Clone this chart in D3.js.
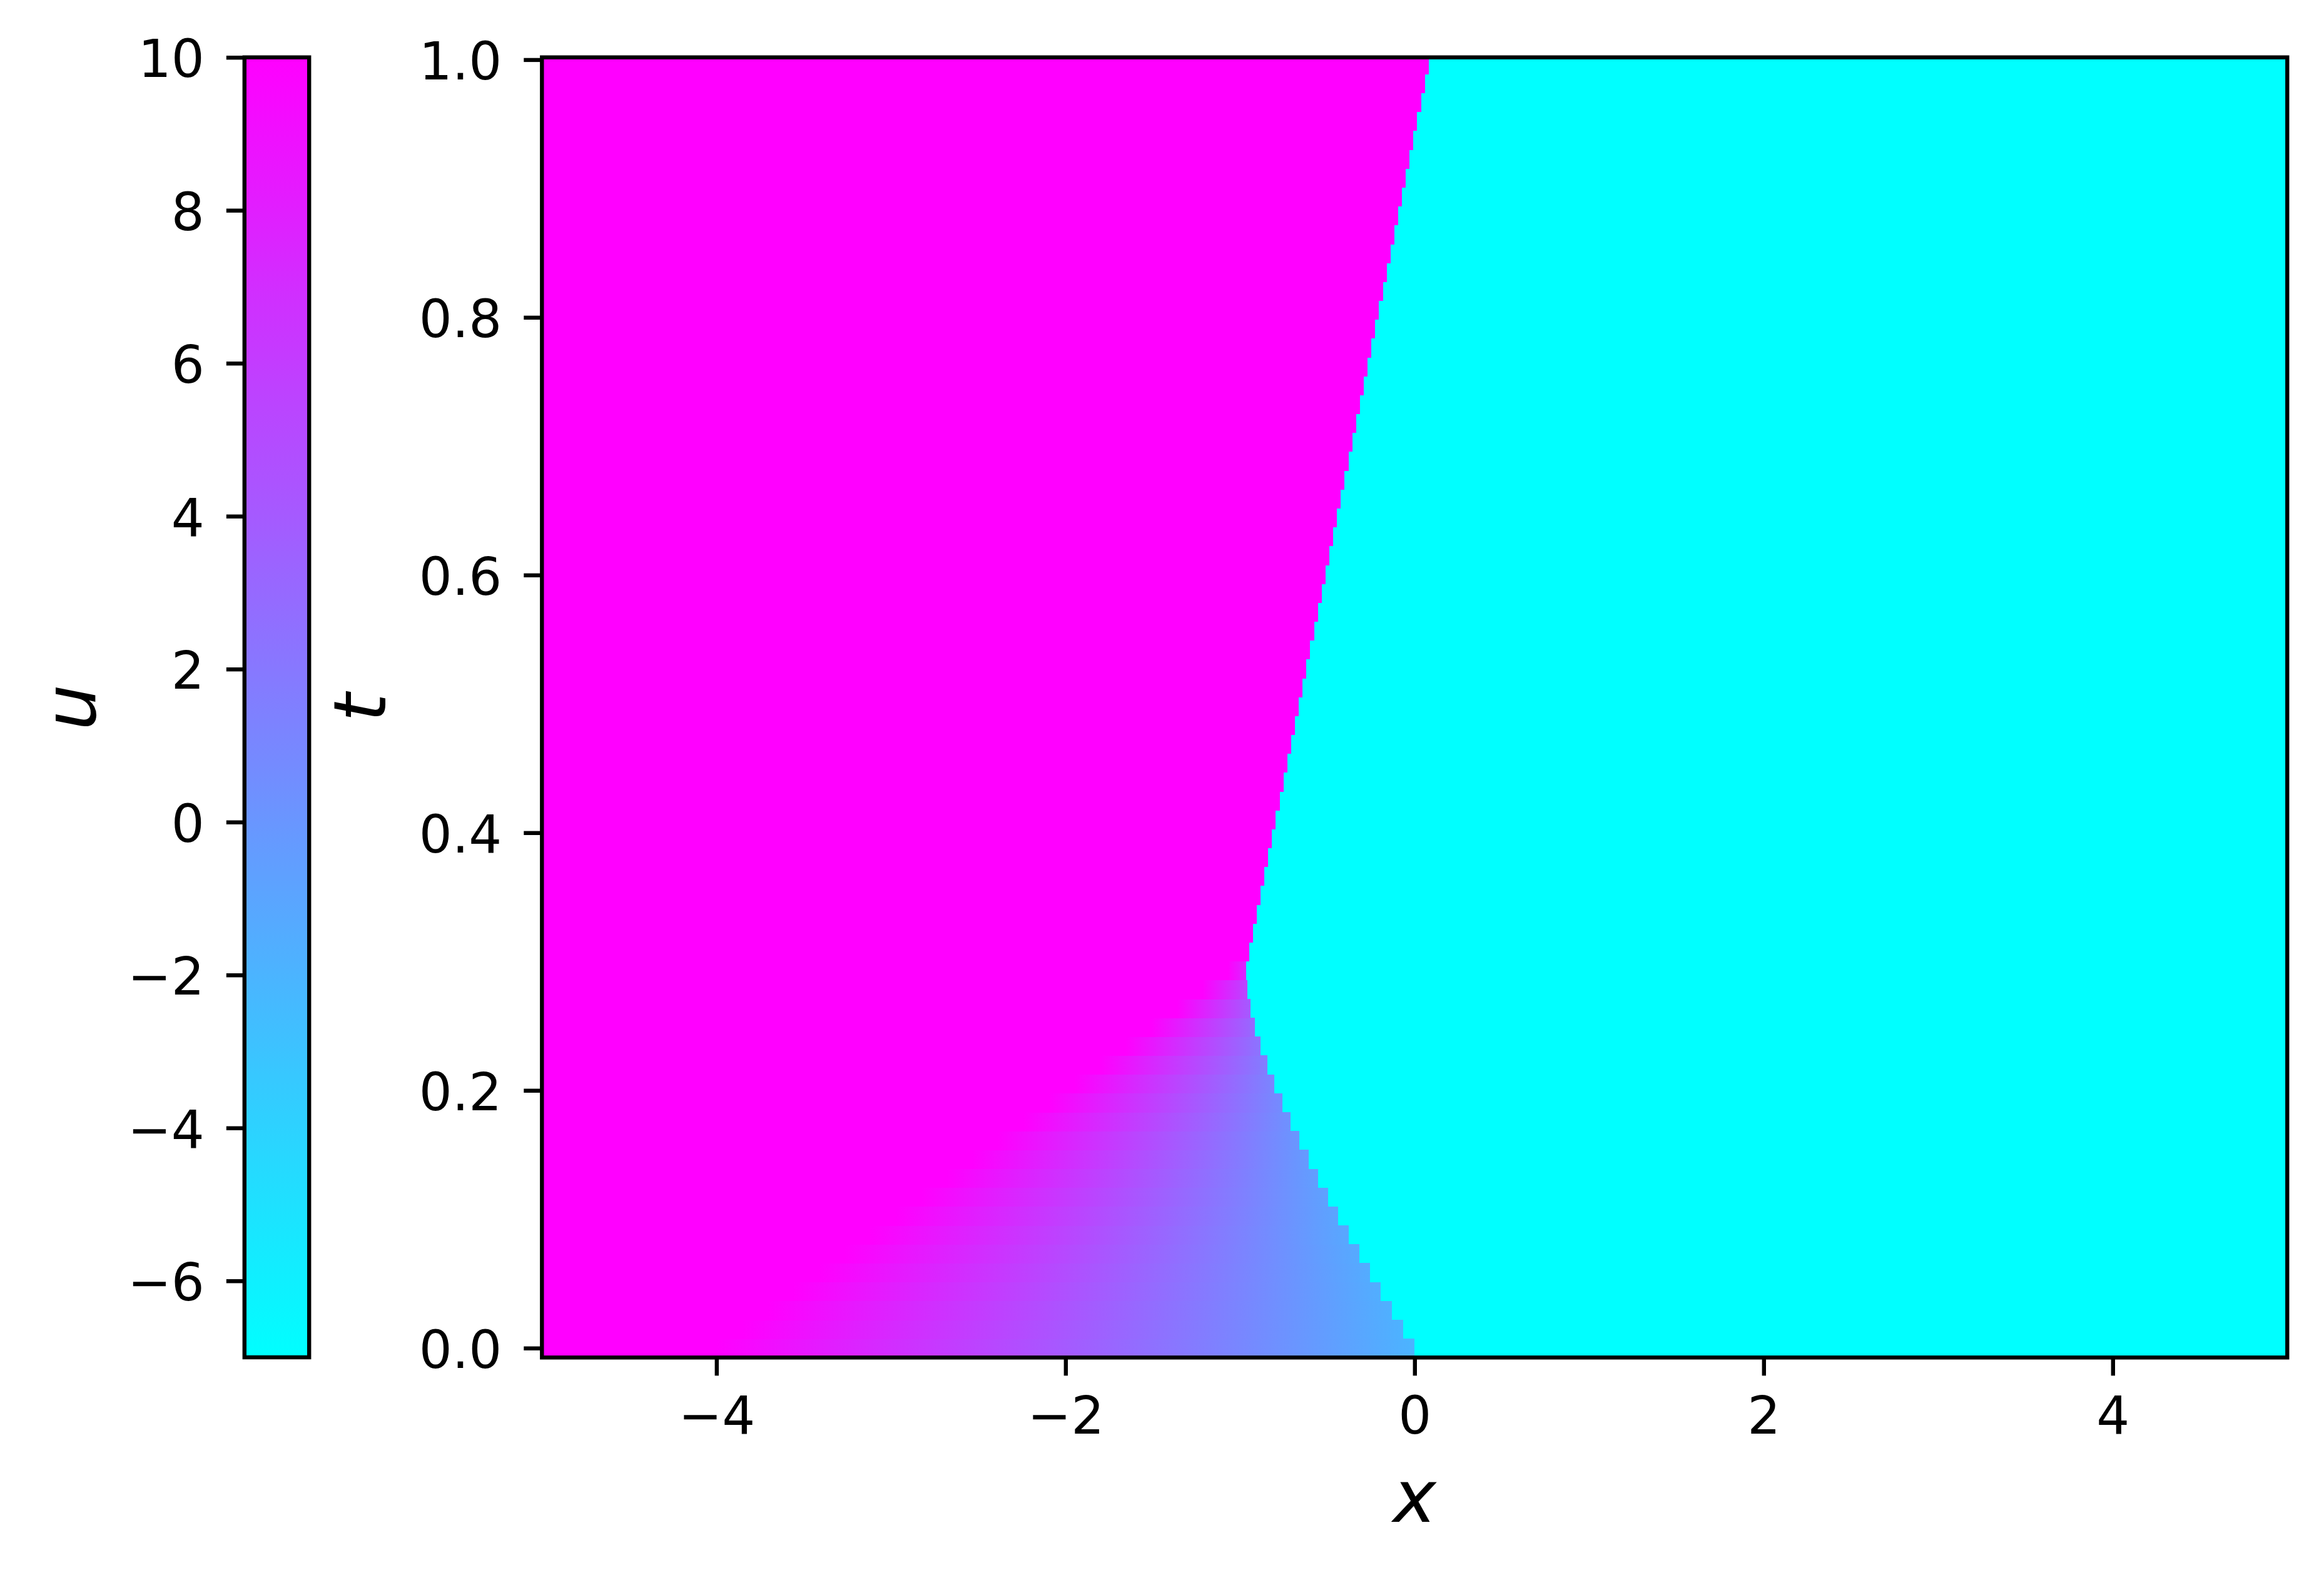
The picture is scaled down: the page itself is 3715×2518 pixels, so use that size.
<!DOCTYPE html>
<html>
<head>
<meta charset="utf-8">
<script src="https://cdn.jsdelivr.net/npm/d3@7"></script>
<style>
  html, body { margin: 0; padding: 0; background: #ffffff; }
  svg { display: block; }
  text { font-family: "DejaVu Sans", sans-serif; fill: #000; }
</style>
</head>
<body>
<div id="chart"></div>
<script>
// ---------------- data ----------------
const xDomain = [-5, 5];
const uDomain = [-7, 10];
const xTicks = [-4, -2, 0, 2, 4];
const tTicks = [0, 0.2, 0.4, 0.6, 0.8, 1.0];
const uTicks = [-6, -4, -2, 0, 2, 4, 6, 8, 10];

// time of each stored row of the solution
const tRows = [0, 0.01465, 0.0293, 0.04395, 0.0586, 0.07325, 0.0879, 0.10255, 0.1172, 0.13185,
  0.1465, 0.16115, 0.1758, 0.19045, 0.2051, 0.21975, 0.2344, 0.24905, 0.2637, 0.27835,
  0.293, 0.30765, 0.3223, 0.33695, 0.3516, 0.36625, 0.3809, 0.39555, 0.4102, 0.42485,
  0.4395, 0.45415, 0.4688, 0.48345, 0.4981, 0.51275, 0.5274, 0.54205, 0.5567, 0.57135,
  0.586, 0.60065, 0.6153, 0.62995, 0.6446, 0.65925, 0.6739, 0.68855, 0.7032, 0.71785,
  0.7325, 0.74715, 0.7618, 0.77645, 0.7911, 0.80575, 0.8204, 0.83505, 0.8497, 0.86435,
  0.879, 0.89365, 0.9083, 0.92295, 0.9376, 0.95225, 0.9669, 0.98155, 0.9962];

// x position of the jump to u = -7 (cyan) in each row
const shockX = [0, -0.066, -0.130, -0.194, -0.257, -0.318, -0.379, -0.438, -0.496, -0.552,
  -0.607, -0.659, -0.710, -0.758, -0.803, -0.844, -0.882, -0.915, -0.941, -0.959,
  -0.964, -0.949, -0.927, -0.905, -0.883, -0.861, -0.839, -0.817, -0.795, -0.773,
  -0.751, -0.730, -0.708, -0.686, -0.664, -0.642, -0.620, -0.598, -0.576, -0.554,
  -0.532, -0.510, -0.489, -0.467, -0.445, -0.423, -0.401, -0.379, -0.357, -0.335,
  -0.313, -0.291, -0.269, -0.248, -0.226, -0.204, -0.182, -0.160, -0.138, -0.116,
  -0.094, -0.072, -0.050, -0.028, -0.007, 0.015, 0.037, 0.059, 0.081];

// ramp (fan) rows: x where u leaves 10, and u just left of the jump
const fanStartX = [-4.000, -3.854, -3.707, -3.561, -3.414, -3.268, -3.121, -2.975, -2.828, -2.682,
  -2.535, -2.389, -2.242, -2.096, -1.949, -1.803, -1.656, -1.510, -1.363, -1.217, -1.070];
const uAtShock = [-2.00, -1.89, -1.76, -1.63, -1.49, -1.34, -1.17, -0.99, -0.79, -0.57,
  -0.32, -0.04, 0.27, 0.64, 1.06, 1.57, 2.18, 2.94, 3.94, 5.31, 7.37];

const uLeft = 10;   // state left of the ramp
const uRight = -7;  // state right of the jump

// ---------------- layout ----------------
const W = 3715, H = 2518;
const plot = { left: 866.3, right: 3656.3, top: 91.7, bottom: 2170.3 };
const cbar = { left: 390.8, right: 494.2, top: 91.7, bottom: 2170.0 };
const tickFont = 83.3, labelFont = 116.7;
const lw = 6.4, tickLen = 29, tickPad = 35;

const halfRow = (tRows[1] - tRows[0]) / 2;

const x = d3.scaleLinear().domain(xDomain).range([plot.left, plot.right]);
const t = d3.scaleLinear().domain([tRows[0] - halfRow, 1.0018]).range([plot.bottom, plot.top]);
const uY = d3.scaleLinear().domain(uDomain).range([cbar.bottom, cbar.top]);
const color = d3.scaleLinear().domain(uDomain).range(["#00ffff", "#ff00ff"]).interpolate(d3.interpolateRgb);

const svg = d3.select("#chart").append("svg")
  .attr("width", W).attr("height", H).attr("viewBox", `0 0 ${W} ${H}`);
svg.append("rect").attr("width", W).attr("height", H).attr("fill", "#fff");
const defs = svg.append("defs");

// ---------------- heat map ----------------
defs.append("clipPath").attr("id", "plotClip").append("rect")
  .attr("x", plot.left).attr("y", plot.top)
  .attr("width", plot.right - plot.left).attr("height", plot.bottom - plot.top);

const field = svg.append("g").attr("clip-path", "url(#plotClip)");
field.append("rect")
  .attr("x", plot.left).attr("y", plot.top)
  .attr("width", plot.right - plot.left).attr("height", plot.bottom - plot.top)
  .attr("fill", color(uRight));

const rows = tRows.map((tv, k) => ({
  k, t: tv, shock: shockX[k],
  fan: k < fanStartX.length ? { start: fanStartX[k], uS: uAtShock[k] } : null
}));

rows.forEach(r => {
  const y0 = t(r.t + halfRow), y1 = t(r.t - halfRow);
  // state u = 10 from the left edge up to the jump
  field.append("rect")
    .attr("x", plot.left - 5).attr("y", y0)
    .attr("width", x(r.shock) - plot.left + 5).attr("height", y1 - y0 + 0.6)
    .attr("fill", color(uLeft))
    .attr("shape-rendering", "crispEdges");
  if (r.fan) {
    const gid = "fan" + r.k;
    const g = defs.append("linearGradient").attr("id", gid)
      .attr("gradientUnits", "userSpaceOnUse")
      .attr("x1", x(r.fan.start)).attr("x2", x(r.shock)).attr("y1", 0).attr("y2", 0);
    g.append("stop").attr("offset", 0).attr("stop-color", color(uLeft));
    g.append("stop").attr("offset", 1).attr("stop-color", color(r.fan.uS));
    field.append("rect")
      .attr("x", x(r.fan.start)).attr("y", y0)
      .attr("width", x(r.shock) - x(r.fan.start)).attr("height", y1 - y0 + 0.6)
      .attr("fill", `url(#${gid})`)
      .attr("shape-rendering", "crispEdges");
  }
});

// frame of the plot
svg.append("rect")
  .attr("x", plot.left).attr("y", plot.top)
  .attr("width", plot.right - plot.left).attr("height", plot.bottom - plot.top)
  .attr("fill", "none").attr("stroke", "#000").attr("stroke-width", lw);

// ---------------- axes ----------------
const fmtMinus = d => (d < 0 ? "\u2212" : "") + Math.abs(d);

const xAxis = svg.append("g").attr("transform", `translate(0,${plot.bottom})`)
  .call(d3.axisBottom(x).tickValues(xTicks).tickSize(tickLen).tickPadding(31)
    .tickFormat(fmtMinus));
const tAxis = svg.append("g").attr("transform", `translate(${plot.left},0)`)
  .call(d3.axisLeft(t).tickValues(tTicks).tickSize(tickLen).tickPadding(tickPad)
    .tickFormat(d3.format(".1f")));

// ---------------- colorbar ----------------
const cg = defs.append("linearGradient").attr("id", "cbarGrad")
  .attr("gradientUnits", "userSpaceOnUse")
  .attr("x1", 0).attr("x2", 0).attr("y1", uY(uDomain[0])).attr("y2", uY(uDomain[1]));
cg.append("stop").attr("offset", 0).attr("stop-color", color(uDomain[0]));
cg.append("stop").attr("offset", 1).attr("stop-color", color(uDomain[1]));
svg.append("rect")
  .attr("x", cbar.left).attr("y", cbar.top)
  .attr("width", cbar.right - cbar.left).attr("height", cbar.bottom - cbar.top)
  .attr("fill", "url(#cbarGrad)");
svg.append("rect")
  .attr("x", cbar.left).attr("y", cbar.top)
  .attr("width", cbar.right - cbar.left).attr("height", cbar.bottom - cbar.top)
  .attr("fill", "none").attr("stroke", "#000").attr("stroke-width", lw);

const uAxis = svg.append("g").attr("transform", `translate(${cbar.left},0)`)
  .call(d3.axisLeft(uY).tickValues(uTicks).tickSize(tickLen).tickPadding(tickPad)
    .tickFormat(fmtMinus));

[xAxis, tAxis, uAxis].forEach(a => {
  a.select(".domain").remove();
  a.selectAll(".tick line").attr("stroke", "#000").attr("stroke-width", lw);
  a.selectAll(".tick text")
    .attr("font-family", "DejaVu Sans").attr("font-size", tickFont).attr("fill", "#000");
});
tAxis.selectAll(".tick text").attr("dy", "0.37em");
uAxis.selectAll(".tick text").attr("dy", "0.37em");
xAxis.selectAll(".tick text").attr("dy", "0.74em");

// ---------------- axis labels ----------------
svg.append("text")
  .attr("x", (plot.left + plot.right) / 2).attr("y", 2433)
  .attr("text-anchor", "middle").attr("font-size", labelFont).attr("font-style", "italic")
  .text("x");
svg.append("text")
  .attr("transform", `translate(616,${(plot.top + plot.bottom) / 2}) rotate(-90)`)
  .attr("text-anchor", "middle").attr("font-size", labelFont).attr("font-style", "italic")
  .text("t");
svg.append("text")
  .attr("transform", `translate(152,${(cbar.top + cbar.bottom) / 2}) rotate(-90)`)
  .attr("text-anchor", "middle").attr("font-size", labelFont).attr("font-style", "italic")
  .text("u");
</script>
</body>
</html>
